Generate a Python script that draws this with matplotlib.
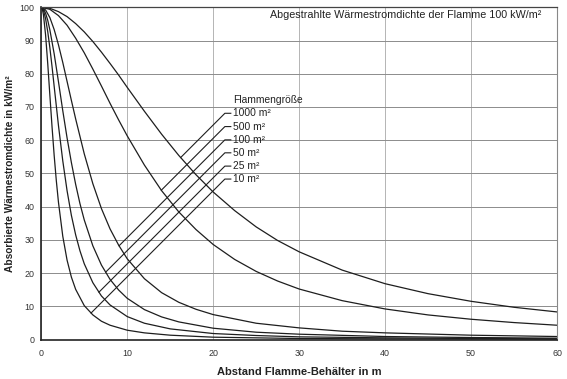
import numpy as np
import matplotlib
matplotlib.use("Agg")
import matplotlib.pyplot as plt

plt.rcParams['font.family'] = ['Liberation Sans', 'DejaVu Sans']

# ---- data ---------------------------------------------------------------
area_labels = ["10 m²", "25 m²", "50 m²", "100 m²", "500 m²", "1000 m²"]

x_10 = [0, 0.125, 0.25, 0.5, 0.75, 1, 1.25, 1.5, 1.75, 2, 2.5, 3, 3.5, 4, 5, 6, 7, 8, 10, 12, 15, 20, 30, 40, 60]
y_10 = [100, 99.4, 97.8, 91.7, 83.1, 73.5, 64.1, 55.4, 47.8, 41.3, 31.1, 23.9, 18.8, 15.1, 10.2, 7.4, 5.5, 4.3, 2.8, 2.0, 1.3, 0.7, 0.3, 0.2, 0.1]

x_25 = [0, 0.25, 0.5, 0.75, 1, 1.25, 1.5, 2, 2.5, 3, 3.5, 4, 4.5, 5, 6, 7, 8, 10, 12, 15, 20, 25, 30, 40, 50, 60]
y_25 = [100, 99.1, 96.6, 92.7, 87.8, 82.2, 76.2, 64.4, 53.8, 44.8, 37.4, 31.5, 26.7, 22.8, 17.1, 13.1, 10.4, 6.9, 4.9, 3.2, 1.8, 1.2, 0.8, 0.5, 0.3, 0.2]

x_50 = [0, 0.25, 0.5, 0.75, 1, 1.5, 2, 2.5, 3, 3.5, 4, 4.5, 5, 6, 7, 8, 9, 10, 12, 14, 16, 20, 25, 30, 40, 50, 60]
y_50 = [100, 99.6, 98.2, 96.1, 93.2, 86.0, 77.6, 68.9, 60.7, 53.3, 46.7, 40.9, 36.0, 28.2, 22.4, 18.1, 14.9, 12.4, 9.0, 6.8, 5.3, 3.4, 2.2, 1.6, 0.9, 0.6, 0.4]

x_100 = [0, 0.5, 1, 1.5, 2, 2.5, 3, 3.5, 4, 5, 6, 7, 8, 9, 10, 12, 14, 16, 18, 20, 25, 30, 35, 40, 50, 60]
y_100 = [100, 99.2, 96.9, 93.3, 88.7, 83.4, 77.7, 72.0, 66.4, 55.9, 46.9, 39.4, 33.3, 28.4, 24.3, 18.3, 14.1, 11.2, 9.1, 7.5, 4.9, 3.5, 2.5, 2.0, 1.3, 0.9]

x_500 = [0, 1, 2, 3, 4, 5, 6, 7, 8, 9, 10, 12, 14, 16, 18, 20, 22.5, 25, 27.5, 30, 35, 40, 45, 50, 55, 60]
y_500 = [100, 99.4, 97.5, 94.6, 90.7, 86.3, 81.4, 76.3, 71.1, 66.1, 61.3, 52.5, 44.8, 38.4, 33.1, 28.6, 24.1, 20.5, 17.6, 15.2, 11.7, 9.2, 7.4, 6.1, 5.1, 4.3]

x_1000 = [0, 1, 2, 3, 4, 5, 6, 7, 8, 9, 10, 12, 14, 16, 18, 20, 22.5, 25, 27.5, 30, 35, 40, 45, 50, 55, 60]
y_1000 = [100, 99.7, 98.7, 97.2, 95.1, 92.6, 89.7, 86.5, 83.1, 79.6, 75.9, 68.7, 61.8, 55.4, 49.6, 44.4, 38.8, 33.9, 29.8, 26.4, 20.9, 16.8, 13.8, 11.5, 9.7, 8.3]

series_x = [x_10, x_25, x_50, x_100, x_500, x_1000]
series_y = [y_10, y_25, y_50, y_100, y_500, y_1000]

label_y = [48.3, 52.2, 56.2, 60.1, 64.1, 68.1]

x_ticks = [0, 10, 20, 30, 40, 50, 60]
y_ticks = [0, 10, 20, 30, 40, 50, 60, 70, 80, 90, 100]

title_text = "Abgestrahlte Wärmestromdichte der Flamme 100 kW/m²"
legend_title = "Flammengröße"
x_label = "Abstand Flamme-Behälter in m"
y_label = "Absorbierte Wärmestromdichte in kW/m²"

# ---- figure ---------------------------------------------------------------
fig = plt.figure(figsize=(5.67, 3.79), dpi=100)
ax = fig.add_axes([0.0728, 0.1042, 0.9096, 0.8765])
ax.set_xlim(0, 60)
ax.set_ylim(0, 100)

ax.set_xticks(x_ticks)
ax.set_yticks(y_ticks)
ax.xaxis.grid(True, color='#b4b4b4', lw=0.7)
ax.yaxis.grid(True, color='#8c8c8c', lw=0.7)
ax.set_axisbelow(True)

ax.tick_params(axis='both', length=0, labelsize=6.4, colors='#333333')
ax.tick_params(axis='x', pad=7)
ax.tick_params(axis='y', pad=5)

for side in ['left', 'bottom']:
    ax.spines[side].set_color('#222222')
    ax.spines[side].set_linewidth(1.2)
ax.spines['top'].set_color('#444444')
ax.spines['top'].set_linewidth(0.9)
ax.spines['right'].set_color('#888888')
ax.spines['right'].set_linewidth(0.8)

for xs, ys in zip(series_x, series_y):
    ax.plot(xs, ys, color='#1e1e1e', lw=0.9, solid_joinstyle='round')

# leader lines (45 deg on screen) from each curve to its label
knee_x = 21.36
end_x = 22.05
text_x = 22.3
slope = (8.6 / 3.32)
for xs, ys, ly, lab in zip(series_x, series_y, label_y, area_labels):
    xf = np.linspace(0.5, knee_x, 4000)
    yc = np.interp(xf, xs, ys)
    yl = ly - slope * (knee_x - xf)
    idx = np.where(yl - yc >= 0)[0][0]
    ax.plot([xf[idx], knee_x, end_x], [yl[idx], ly, ly], color='#1e1e1e', lw=0.8)
    ax.text(text_x, ly, lab, fontsize=7.4, va='center', ha='left', color='#222222')

ax.text(text_x, 72.1, legend_title, fontsize=7.4, va='center', ha='left', color='#222222')
ax.text(26.6, 97.6, title_text, fontsize=7.75, va='center', ha='left', color='#222222')

ax.set_xlabel(x_label, fontsize=8.0, fontweight='bold', color='#222222')
ax.set_ylabel(y_label, fontsize=7.3, fontweight='bold', color='#222222')
ax.xaxis.label.set_va('center')
ax.yaxis.label.set_va('center')
ax.xaxis.set_label_coords(0.5, -0.098)
ax.yaxis.set_label_coords(-0.061, 0.5)

fig.savefig('out.png', dpi=100, facecolor='white')
